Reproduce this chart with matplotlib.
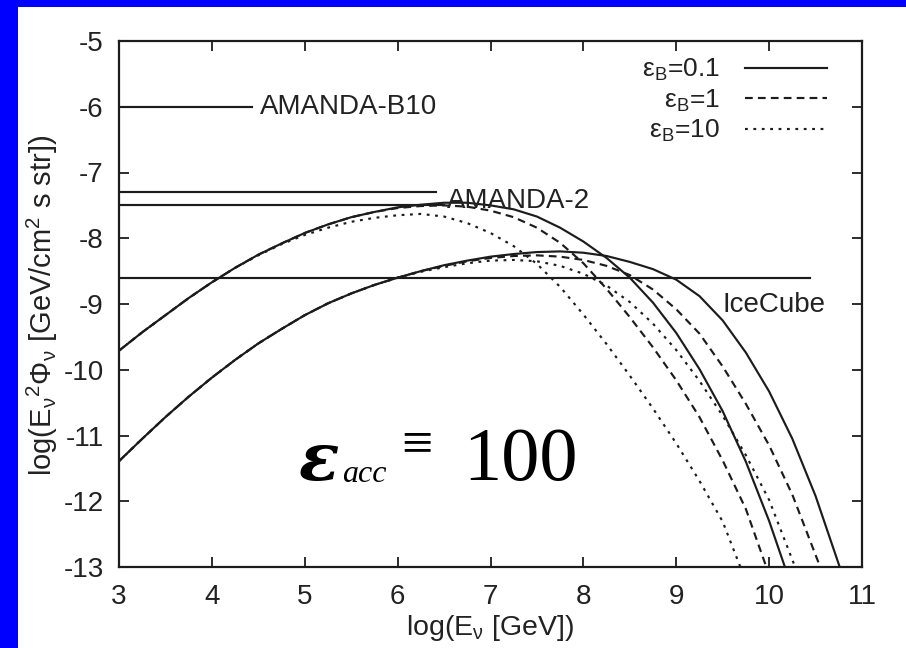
import matplotlib
matplotlib.use("Agg")
import matplotlib.pyplot as plt
from matplotlib.lines import Line2D
from matplotlib.patches import Rectangle

plt.rcParams['font.family'] = ['Liberation Sans', 'DejaVu Sans']
plt.rcParams['mathtext.fontset'] = 'custom'
plt.rcParams['mathtext.rm'] = 'Liberation Sans'
plt.rcParams['mathtext.it'] = 'Liberation Sans:italic'
plt.rcParams['mathtext.bf'] = 'Liberation Sans:bold'
plt.rcParams['mathtext.sf'] = 'Liberation Sans'

# ---------------- data ----------------
x_ticks = [3, 4, 5, 6, 7, 8, 9, 10, 11]
y_ticks = [-13, -12, -11, -10, -9, -8, -7, -6, -5]

eB_labels = ['ε$_{\\mathrm{B}}$=0.1', 'ε$_{\\mathrm{B}}$=1', 'ε$_{\\mathrm{B}}$=10']

# upper group, eps_B = 0.1 / 1 / 10
up_x_01 = [3, 3.25, 3.5, 3.75, 4, 4.25, 4.5, 4.75, 5, 5.25, 5.5, 5.75, 6, 6.25, 6.5, 6.75,
           7, 7.25, 7.5, 7.75, 8, 8.25, 8.5, 8.75, 9, 9.25, 9.5, 9.75, 10, 10.17]
up_y_01 = [-9.71, -9.43, -9.17, -8.91, -8.67, -8.45, -8.25, -8.08, -7.92, -7.79, -7.68, -7.6,
           -7.53, -7.49, -7.46, -7.46, -7.5, -7.56, -7.67, -7.84, -8.05, -8.3, -8.6, -8.98,
           -9.44, -9.99, -10.63, -11.4, -12.3, -13.0]
up_x_1 = [3, 3.25, 3.5, 3.75, 4, 4.25, 4.5, 4.75, 5, 5.25, 5.5, 5.75, 6, 6.25, 6.5, 6.75,
          7, 7.25, 7.5, 7.75, 8, 8.25, 8.5, 8.75, 9, 9.25, 9.5, 9.75, 9.97]
up_y_1 = [-9.71, -9.43, -9.17, -8.91, -8.67, -8.45, -8.25, -8.08, -7.92, -7.79, -7.68, -7.6,
          -7.54, -7.51, -7.5, -7.52, -7.58, -7.68, -7.84, -8.07, -8.38, -8.77, -9.2, -9.66,
          -10.16, -10.72, -11.38, -12.12, -13.0]
up_x_10 = [3, 3.25, 3.5, 3.75, 4, 4.25, 4.5, 4.75, 5, 5.25, 5.5, 5.75, 6, 6.25, 6.5, 6.75,
           7, 7.25, 7.5, 7.75, 8, 8.25, 8.5, 8.75, 9, 9.25, 9.5, 9.69]
up_y_10 = [-9.71, -9.43, -9.17, -8.91, -8.67, -8.45, -8.26, -8.09, -7.95, -7.84, -7.75, -7.69,
           -7.65, -7.63, -7.67, -7.77, -7.92, -8.12, -8.39, -8.74, -9.16, -9.61, -10.09,
           -10.59, -11.12, -11.69, -12.31, -13.0]

# lower group, eps_B = 0.1 / 1 / 10
lo_x_01 = [3, 3.25, 3.5, 3.75, 4, 4.25, 4.5, 4.75, 5, 5.25, 5.5, 5.75, 6, 6.25, 6.5, 6.75,
           7, 7.25, 7.5, 7.75, 8, 8.25, 8.5, 8.75, 9, 9.25, 9.5, 9.75, 10, 10.25, 10.5, 10.76]
lo_y_01 = [-11.39, -11.05, -10.72, -10.41, -10.12, -9.85, -9.6, -9.38, -9.17, -8.99, -8.84,
           -8.71, -8.6, -8.5, -8.41, -8.34, -8.28, -8.24, -8.21, -8.2, -8.22, -8.27, -8.36,
           -8.47, -8.63, -8.88, -9.25, -9.74, -10.33, -11.05, -11.92, -13.0]
lo_x_1 = [3, 3.25, 3.5, 3.75, 4, 4.25, 4.5, 4.75, 5, 5.25, 5.5, 5.75, 6, 6.25, 6.5, 6.75,
          7, 7.25, 7.5, 7.75, 8, 8.25, 8.5, 8.75, 9, 9.25, 9.5, 9.75, 10, 10.25, 10.55]
lo_y_1 = [-11.39, -11.05, -10.72, -10.41, -10.12, -9.85, -9.6, -9.38, -9.17, -8.99, -8.84,
          -8.71, -8.6, -8.5, -8.42, -8.35, -8.3, -8.27, -8.26, -8.28, -8.33, -8.42, -8.56,
          -8.78, -9.08, -9.45, -9.95, -10.52, -11.15, -11.9, -13.0]
lo_x_10 = [3, 3.25, 3.5, 3.75, 4, 4.25, 4.5, 4.75, 5, 5.25, 5.5, 5.75, 6, 6.25, 6.5, 6.75,
           7, 7.25, 7.5, 7.75, 8, 8.25, 8.5, 8.75, 9, 9.25, 9.5, 9.75, 10, 10.28]
lo_y_10 = [-11.39, -11.05, -10.72, -10.41, -10.12, -9.85, -9.6, -9.38, -9.17, -8.99, -8.84,
           -8.71, -8.6, -8.51, -8.44, -8.38, -8.34, -8.33, -8.35, -8.42, -8.54, -8.72, -8.97,
           -9.3, -9.7, -10.17, -10.7, -11.3, -11.98, -13.0]

# experimental sensitivity limits: level, x-start, x-end, label
limit_names = ['AMANDA-B10', 'AMANDA-2', 'AMANDA-2', 'IceCube']
limit_levels = [-6.0, -7.3, -7.5, -8.6]
limit_x0 = [3.0, 3.0, 3.0, 3.0]
limit_x1 = [4.43, 6.41, 6.5, 10.44]

# ---------------- figure ----------------
W, H = 906, 648
fig = plt.figure(figsize=(W / 100, H / 100), dpi=100)
fig.patch.set_facecolor('white')

# blue slide frame
fig.add_artist(Rectangle((0, 1 - 7 / H), 1, 7 / H, transform=fig.transFigure,
                         facecolor='#0000ff', edgecolor='none', zorder=0))
fig.add_artist(Rectangle((0, 0), 18 / W, 1, transform=fig.transFigure,
                         facecolor='#0000ff', edgecolor='none', zorder=0))

ax = fig.add_axes([119 / W, 1 - 567 / H, (862 - 119) / W, (567 - 41) / H])
ink = '#1c1c1c'
tcol = '#222222'
lw = 1.55
fs = 20

ax.set_xlim(3, 11)
ax.set_ylim(-13, -5)
ax.set_xticks(x_ticks)
ax.set_yticks(y_ticks)
ax.set_xticklabels([str(v) for v in x_ticks])
ax.set_yticklabels([str(v) for v in y_ticks])
ax.tick_params(direction='in', length=7, width=1.3, colors=ink, labelcolor=tcol,
               labelsize=fs, top=True, right=True)
ax.tick_params(axis='y', pad=11)
ax.tick_params(axis='x', pad=12)
for s in ax.spines.values():
    s.set_linewidth(1.6)
    s.set_color(ink)

dash = (0, (3.6, 2.4))
dot = (0, (1.3, 2.6))
styles = ['-', dash, dot]

for xs, ys, st in [(up_x_01, up_y_01, styles[0]), (up_x_1, up_y_1, styles[1]),
                   (up_x_10, up_y_10, styles[2]), (lo_x_01, lo_y_01, styles[0]),
                   (lo_x_1, lo_y_1, styles[1]), (lo_x_10, lo_y_10, styles[2])]:
    ax.plot(xs, ys, color=ink, lw=lw, linestyle=st, solid_joinstyle='round')

for lev, a, b in zip(limit_levels, limit_x0, limit_x1):
    ax.plot([a, b], [lev, lev], color=ink, lw=lw)

txt = dict(fontsize=fs, color=tcol, va='center', ha='left')
ax.text(4.52, -6.0, limit_names[0], **txt)
ax.text(6.53, -7.44, limit_names[1], **txt)
ax.text(9.50, -9.02, limit_names[3], **txt)

# legend
handles = [Line2D([], [], color=ink, lw=lw, linestyle=s) for s in styles]
leg = ax.legend(handles, eB_labels, loc='upper right', bbox_to_anchor=(0.953, 0.97),
                frameon=False, markerfirst=False, fontsize=19, handlelength=3.1,
                handletextpad=0.95, labelspacing=0.17, borderpad=0, borderaxespad=0)
for t in leg.get_texts():
    t.set_color(tcol)

# axis labels
ax.set_xlabel(r'log(E$_{\mathrm{\nu}}$ [GeV])', fontsize=20.5, color=tcol)
ax.xaxis.set_label_coords(0.499, -0.088)
ax.set_ylabel(r'log(E$_{\mathrm{\nu}}{}^{\mathrm{2}}\mathrm{\Phi}_{\mathrm{\nu}}$ [GeV/cm$^{\mathrm{2}}$ s str])',
              fontsize=21, color=tcol)
ax.yaxis.set_label_coords(-0.080, 0.498)

# epsilon_acc = 100 annotation
ax.text(4.93, -11.68, 'ε', family=['DejaVu Serif'], style='italic', weight='bold',
        fontsize=48, color='black', ha='left', va='baseline')
ax.text(5.40, -11.71, 'acc', family=['Liberation Serif', 'DejaVu Serif'], style='italic',
        fontsize=23, color='black', ha='left', va='baseline')
ax.text(6.21, -11.16, '≡', family=['Liberation Serif', 'DejaVu Serif'], fontsize=40,
        color='black', ha='center', va='center')
ax.text(6.71, -11.68, '100', family=['Liberation Serif', 'DejaVu Serif'], fontsize=55,
        color='black', ha='left', va='baseline')

fig.savefig('out.png', dpi=100)
